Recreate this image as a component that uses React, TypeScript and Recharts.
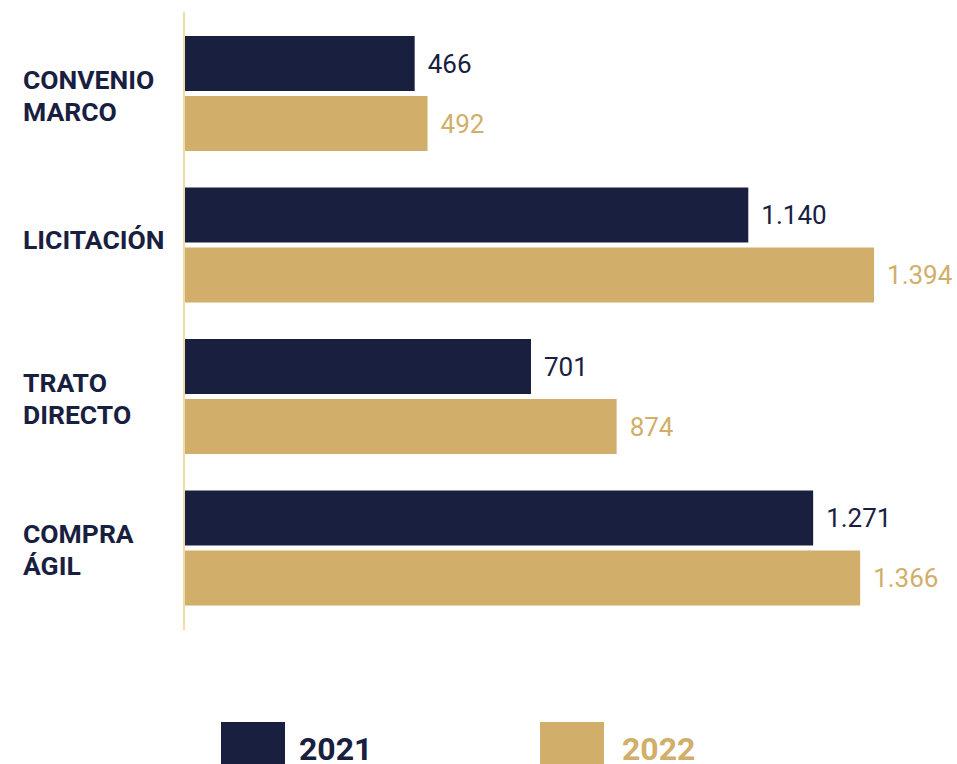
import { BarChart, Bar, XAxis, YAxis, Legend, LabelList } from "recharts";

const categories = ["CONVENIO MARCO", "LICITACIÓN", "TRATO DIRECTO", "COMPRA ÁGIL"];
const values2021 = [466, 1140, 701, 1271];
const values2022 = [492, 1394, 874, 1366];
const seriesNames = ["2021", "2022"];

const NAVY = "#19203f";
const GOLD = "#d1ae6a";
const AXIS = "#f1dca6";
const FONT = "Roboto, 'Noto Sans', sans-serif";

const data = categories.map((name, i) => ({
  name,
  y2021: values2021[i],
  y2022: values2022[i],
}));

const fmt = (v: any) => String(v).replace(/\B(?=(\d{3})+(?!\d))/g, ".");

function CategoryTick(props: any) {
  const { y, payload } = props;
  const lines = String(payload.value).split(" ");
  const first = lines.length > 1 ? y - 5 : y + 4;
  return (
    <text
      x={23}
      y={first}
      fill={NAVY}
      fontFamily={FONT}
      fontWeight={700}
      fontSize={26.5}
      textAnchor="start"
    >
      {lines.map((l, i) => (
        <tspan key={i} x={23} y={first + i * 32}>
          {l}
        </tspan>
      ))}
    </text>
  );
}

// legend swatch left edges and label left edges
const legendRectX = [221, 540];
const legendTextX = [299, 622];

function LegendContent(props: any) {
  const payload = props.payload || [];
  return (
    <svg width={957} height={42} style={{ display: "block" }}>
      {payload.map((p: any, i: number) => (
        <g key={i}>
          <rect x={legendRectX[i]} y={0} width={64} height={42} fill={p.color} />
          <text
            x={legendTextX[i]}
            y={38}
            fill={p.color}
            fontFamily={FONT}
            fontWeight={700}
            fontSize={32}
          >
            {p.value}
          </text>
        </g>
      ))}
    </svg>
  );
}

export default function App() {
  return (
    <div style={{ position: "absolute", left: 0, top: 0, width: 957, height: 764, background: "#fff" }}>
      <BarChart
        width={957}
        height={764}
        data={data}
        layout="vertical"
        margin={{ top: 12, right: 80, bottom: 134, left: 0 }}
        barSize={55}
        barGap={5}
      >
        <XAxis type="number" domain={[0, 1400]} hide />
        <YAxis
          type="category"
          dataKey="name"
          width={184}
          padding={{ top: 6, bottom: 6 }}
          axisLine={{ stroke: AXIS, strokeWidth: 2 }}
          tickLine={false}
          tick={<CategoryTick />}
        />
        <Legend
          layout="horizontal"
          verticalAlign="middle"
          align="center"
          wrapperStyle={{ top: 722, left: 0, width: 957, height: 42 }}
          content={<LegendContent />}
        />
        <Bar dataKey="y2021" name={seriesNames[0]} fill={NAVY} isAnimationActive={false}>
          <LabelList
            dataKey="y2021"
            position="right"
            offset={13}
            formatter={fmt}
            fill={NAVY}
            fontFamily={FONT}
            fontSize={26}
          />
        </Bar>
        <Bar dataKey="y2022" name={seriesNames[1]} fill={GOLD} isAnimationActive={false}>
          <LabelList
            dataKey="y2022"
            position="right"
            offset={13}
            formatter={fmt}
            fill={GOLD}
            fontFamily={FONT}
            fontSize={26}
          />
        </Bar>
      </BarChart>
    </div>
  );
}
